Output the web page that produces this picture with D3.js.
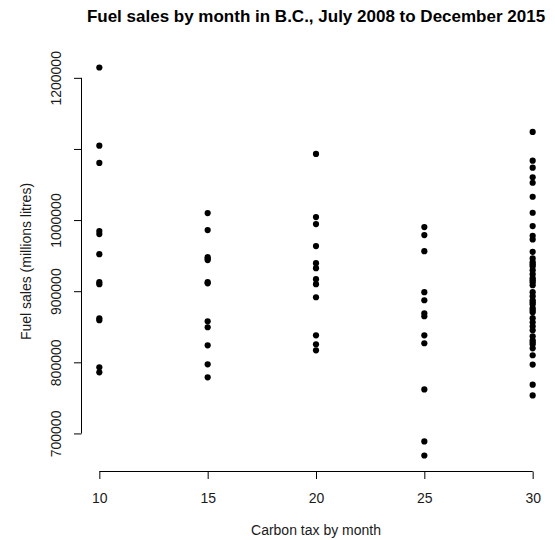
<!DOCTYPE html>
<html>
<head>
<meta charset="utf-8">
<script src="https://cdn.jsdelivr.net/npm/d3@7"></script>
<style>
  html, body { margin: 0; padding: 0; background: #fff; }
  svg { display: block; font-family: "Liberation Sans", Arial, sans-serif; }
</style>
</head>
<body>
<svg id="chart" width="555" height="540"></svg>
<script>
// Monthly fuel sales grouped by the carbon tax rate in force ($/tonne)
const taxLevels = [10, 15, 20, 25, 30];

const sales10 = [1214500, 1104600, 1080300, 984500, 980300, 952100,
                 912700, 909900, 861900, 859200, 792900, 785900];
const sales15 = [1009900, 985900, 947900, 945500, 943700, 912700,
                 911000, 857700, 849300, 823900, 797200, 778900];
const sales20 = [1093000, 1004200, 994400, 963400, 939400, 932400,
                 916900, 909900, 891500, 838000, 825400, 816900];
const sales25 = [990100, 978900, 956300, 898600, 887300, 869000,
                 864800, 838000, 826800, 761900, 688700, 669000];
const sales30 = [1124000, 1083500, 1073700, 1060100, 1052500, 1032800,
                 1010300, 991500, 977900, 972800, 955400, 946100,
                 940800, 938000, 935200, 929600, 923900, 918300,
                 915500, 912700, 908500, 898600, 893000, 887300,
                 884500, 881700, 876100, 873200, 870400, 862000,
                 856300, 850700, 845100, 836600, 831000, 828200,
                 825400, 819700, 809900, 796800, 768600, 753500];

const xTicks = [10, 15, 20, 25, 30];
const yTicks = [700000, 800000, 900000, 1000000, 1100000, 1200000];
const yTickLabels = ["700000", "800000", "900000", "1000000", "", "1200000"];

const titleText = "Fuel sales by month in B.C., July 2008 to December 2015";
const xTitle = "Carbon tax by month";
const yTitle = "Fuel sales (millions litres)";

// Flatten into (tax, sales) points
const salesByLevel = [sales10, sales15, sales20, sales25, sales30];
const points = [];
taxLevels.forEach((t, i) => salesByLevel[i].forEach(v => points.push({ tax: t, sales: v })));

const svg = d3.select("#chart");
const plot = { left: 82, right: 550, top: 52, bottom: 471 };

// Data range padded by 4% on each side
function padded(ext) {
  const d = (ext[1] - ext[0]) * 0.04;
  return [ext[0] - d, ext[1] + d];
}
const x = d3.scaleLinear()
  .domain(padded(d3.extent(points, d => d.tax)))
  .range([plot.left, plot.right]);
const y = d3.scaleLinear()
  .domain(padded(d3.extent(points, d => d.sales)))
  .range([plot.bottom, plot.top]);

const ink = "#000";
const textInk = "#1a1a1a";
const labelSize = 14;

// X axis: line spans first to last tick only
const xAxis = d3.axisBottom(x).tickValues(xTicks).tickSizeInner(8).tickSizeOuter(0).tickPadding(0)
  .tickFormat(d3.format("d"));
const gx = svg.append("g").attr("transform", `translate(0,${plot.bottom})`).call(xAxis);
gx.select(".domain").remove();
gx.append("line")
  .attr("x1", x(xTicks[0])).attr("x2", x(xTicks[xTicks.length - 1]))
  .attr("y1", 0.5).attr("y2", 0.5)
  .attr("stroke", ink);
gx.selectAll(".tick line").attr("stroke", ink).attr("y1", 0.5);
gx.selectAll(".tick text").remove();
gx.selectAll(".tick").append("text")
  .attr("y", 32).attr("text-anchor", "middle")
  .attr("fill", textInk).attr("font-size", labelSize)
  .text(d => d);

// Y axis with rotated labels
const yAxis = d3.axisLeft(y).tickValues(yTicks).tickSizeInner(8).tickSizeOuter(0).tickFormat(() => "");
const gy = svg.append("g").attr("transform", `translate(${plot.left},0)`).call(yAxis);
gy.select(".domain").remove();
gy.append("line")
  .attr("x1", -0.5).attr("x2", -0.5)
  .attr("y1", y(yTicks[0])).attr("y2", y(yTicks[yTicks.length - 1]))
  .attr("stroke", ink);
gy.selectAll(".tick line").attr("stroke", ink).attr("x1", -0.5);
gy.selectAll(".tick text").remove();
gy.selectAll(".tick").append("text")
  .attr("transform", "translate(-21,0) rotate(-90)")
  .attr("text-anchor", "middle")
  .attr("fill", textInk).attr("font-size", labelSize)
  .text((d, i) => yTickLabels[i]);

// Points
svg.append("g").selectAll("circle")
  .data(points)
  .join("circle")
  .attr("cx", d => x(d.tax))
  .attr("cy", d => y(d.sales))
  .attr("r", 3.1)
  .attr("fill", ink);

// Titles
svg.append("text")
  .attr("x", (plot.left + plot.right) / 2).attr("y", 22)
  .attr("text-anchor", "middle")
  .attr("font-weight", "bold").attr("font-size", 17)
  .attr("fill", "#000")
  .text(titleText);

svg.append("text")
  .attr("x", (plot.left + plot.right) / 2).attr("y", 535)
  .attr("text-anchor", "middle")
  .attr("font-size", labelSize).attr("fill", textInk)
  .text(xTitle);

svg.append("text")
  .attr("transform", `translate(31,${(plot.top + plot.bottom) / 2}) rotate(-90)`)
  .attr("text-anchor", "middle")
  .attr("font-size", labelSize).attr("fill", textInk)
  .text(yTitle);
</script>
</body>
</html>
